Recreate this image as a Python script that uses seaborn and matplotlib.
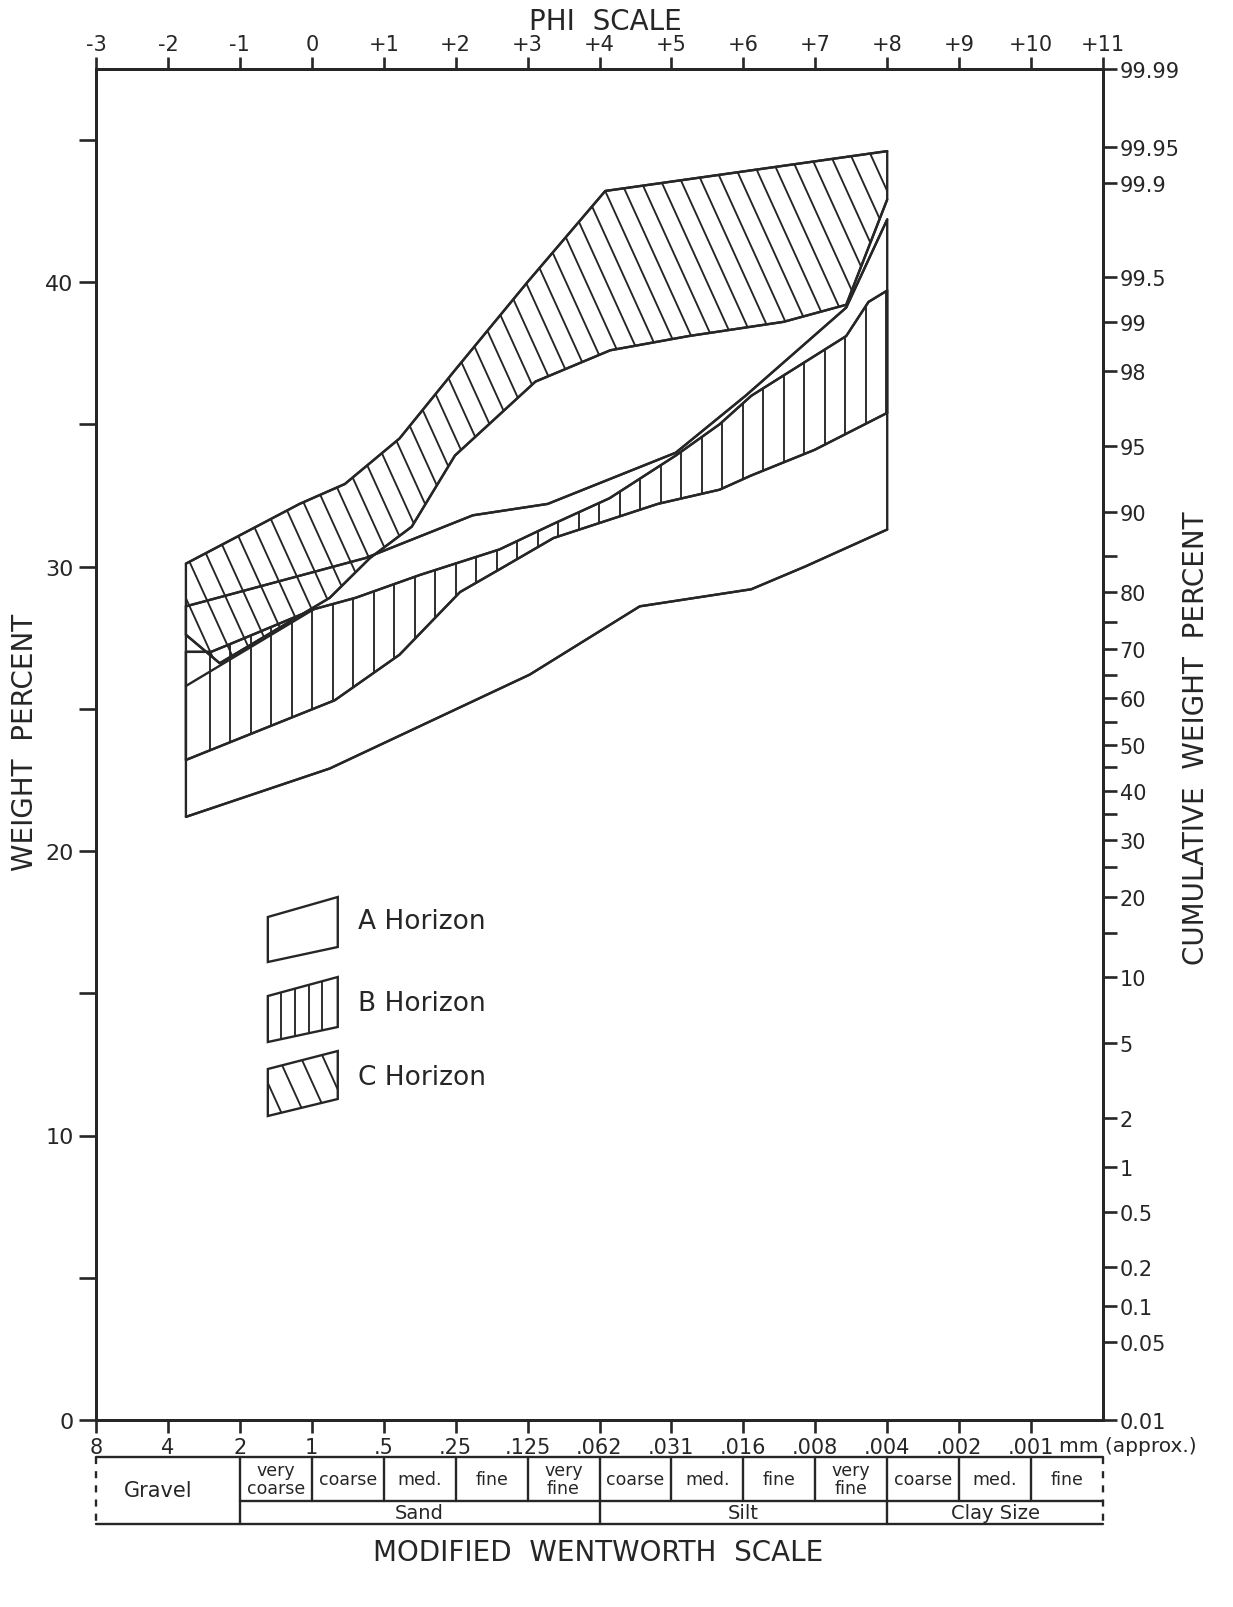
import numpy as np
import seaborn as sns
import matplotlib
matplotlib.use('Agg')
import matplotlib.pyplot as plt
from matplotlib.patches import Polygon
from statistics import NormalDist

# Envelopes of the cumulative curves (phi units, weight percent)
c_upper_phi = [-1.75, -0.17, 0.46, 1.22, 1.99, 3.0, 4.08, 8.0]
c_upper_wt = [30.1, 32.2, 32.9, 34.5, 36.9, 40.0, 43.2, 44.6]
c_lower_phi = [-1.75, -1.28, 0.25, 0.81, 1.39, 1.99, 3.11, 4.15, 5.24, 6.56, 7.43, 8.0]
c_lower_wt = [27.6, 26.6, 28.9, 30.3, 31.4, 33.9, 36.5, 37.6, 38.1, 38.6, 39.2, 42.9]

b_upper_phi = [-1.75, -1.40, -1.11, -0.54, 0.03, 0.61, 1.5, 2.61, 3.36, 4.14, 5.06,
               5.67, 6.11, 6.99, 7.43, 7.74, 8.0]
b_upper_wt = [27.0, 27.0, 27.3, 27.9, 28.5, 28.9, 29.7, 30.6, 31.5, 32.4, 33.9,
              35.0, 36.0, 37.4, 38.1, 39.3, 39.7]
b_lower_phi = [-1.75, 0.32, 1.22, 2.06, 2.61, 3.36, 4.81, 5.67, 6.11, 6.99, 8.0]
b_lower_wt = [23.2, 25.3, 26.9, 29.1, 29.9, 31.0, 32.2, 32.7, 33.2, 34.1, 35.4]

a_upper_phi = [-1.75, 0.75, 2.24, 3.28, 5.06, 6.03, 7.43, 8.0]
a_upper_wt = [28.6, 30.3, 31.8, 32.2, 34.0, 36.0, 39.1, 42.2]
a_lower_phi = [-1.75, 0.25, 3.03, 4.56, 6.11, 6.86, 8.0]
a_lower_wt = [21.2, 22.9, 26.2, 28.6, 29.2, 30.0, 31.3]

# second A-horizon trace at the coarse end
a_trace_phi = [-1.75, 0.03]
a_trace_wt = [25.8, 28.5]

# axis scales
phi_ticks = list(range(-3, 12))
phi_labels = ['-3', '-2', '-1', '0', '+1', '+2', '+3', '+4', '+5', '+6', '+7', '+8', '+9', '+10', '+11']
mm_labels = ['8', '4', '2', '1', '.5', '.25', '.125', '.062', '.031', '.016', '.008', '.004', '.002', '.001']
cum_pct = [0.01, 0.05, 0.1, 0.2, 0.5, 1, 2, 5, 10, 20, 30, 40, 50, 60, 70, 80, 90, 95, 98, 99,
           99.5, 99.9, 99.95, 99.99]
cum_minor = [15, 25, 35, 45, 55, 65, 75, 85]

# Wentworth classes
class_names = ['very\ncoarse', 'coarse', 'med.', 'fine', 'very\nfine',
               'coarse', 'med.', 'fine', 'very\nfine', 'coarse', 'med.', 'fine']
class_edges = list(range(-1, 12))
group_names = ['Sand', 'Silt', 'Clay Size']
group_edges = [-1, 4, 8, 11]

sns.set_style('ticks')
plt.rcParams['font.family'] = ['DejaVu Sans']
ink = '#262626'
lw = 1.7

W, H = 1233, 1608
fig = plt.figure(figsize=(W / 100, H / 100), dpi=100)
fig.patch.set_facecolor('white')
ax = fig.add_axes([96 / W, (H - 1421) / H, 1007 / W, 1351 / H])
ymax = 1351 / 28.45
ax.set_xlim(-3, 11)
ax.set_ylim(0, ymax)


def envelope(up_x, up_y, lo_x, lo_y):
    verts = np.column_stack([np.r_[up_x, lo_x[::-1]], np.r_[up_y, lo_y[::-1]]])
    patch = Polygon(verts, closed=True, fill=False, edgecolor=ink, lw=lw, joinstyle='round')
    ax.add_patch(patch)
    return patch


def hatch(patch, x0, x1, spacing, slope=None, width=1.35):
    if slope is None:
        for x in np.arange(x0, x1, spacing):
            ln, = ax.plot([x, x], [-5, 60], color=ink, lw=width)
            ln.set_clip_path(patch)
    else:
        for p in np.arange(x0 - 3, x1 + 6, spacing):
            xs = np.array([p - 6, p + 6])
            ln, = ax.plot(xs, 30 - slope * (xs - p), color=ink, lw=width)
            ln.set_clip_path(patch)


diag = 2.2 * 72 / 28.45  # slope of the C hatching in data units

pa = envelope(a_upper_phi, a_upper_wt, a_lower_phi, a_lower_wt)
pb = envelope(b_upper_phi, b_upper_wt, b_lower_phi, b_lower_wt)
hatch(pb, -1.75 + 0.33, 8.0, 0.285)
pc = envelope(c_upper_phi, c_upper_wt, c_lower_phi, c_lower_wt)
hatch(pc, -1.75, 8.0, 0.28, slope=diag)

for xs, ys in [(a_upper_phi, a_upper_wt), (a_lower_phi, a_lower_wt), (b_upper_phi, b_upper_wt),
               (b_lower_phi, b_lower_wt), (c_upper_phi, c_upper_wt), (c_lower_phi, c_lower_wt),
               (a_trace_phi, a_trace_wt)]:
    sns.lineplot(x=xs, y=ys, sort=False, estimator=None, color=ink, lw=lw, ax=ax)


# legend swatches (parallelograms)
def px_x(x):
    return (x - 96) / 72 - 3


def px_y(y):
    return (1421 - y) / 28.45


swatches = [(918, 898, 948, 963), (997, 978, 1028, 1043), (1070, 1052, 1100, 1117)]
legend_text = ['A Horizon', 'B Horizon', 'C Horizon']
legend_y = [922, 1004, 1078]
for i, (tl, tr, br, bl) in enumerate(swatches):
    verts = [(px_x(268), px_y(tl)), (px_x(338), px_y(tr)), (px_x(338), px_y(br)), (px_x(268), px_y(bl))]
    p = Polygon(verts, closed=True, fill=False, edgecolor=ink, lw=lw)
    ax.add_patch(p)
    if i == 1:
        hatch(p, px_x(268) + 0.19, px_x(338) - 0.05, 0.19)
    elif i == 2:
        hatch(p, px_x(268) - 1.5, px_x(338), 0.31, slope=diag)
    ax.text(px_x(358), px_y(legend_y[i]), legend_text[i], fontsize=19, color=ink,
            ha='left', va='center')

# left axis
ax.set_yticks(np.arange(0, 46, 5))
ax.set_yticklabels([str(v) if v % 10 == 0 else '' for v in range(0, 46, 5)])
ax.set_xticks(phi_ticks[:-1])
ax.set_xticklabels(mm_labels)
ax.tick_params(axis='y', direction='out', length=12, width=1.9, labelsize=16, colors=ink, pad=4)
ax.tick_params(axis='x', direction='out', length=9, width=1.9, labelsize=15, colors=ink, pad=3)
for s in ax.spines.values():
    s.set_linewidth(2.0)
    s.set_color(ink)

# top phi axis
ax_t = ax.twiny()
ax_t.set_xlim(-3, 11)
ax_t.set_xticks(phi_ticks)
ax_t.set_xticklabels(phi_labels)
ax_t.tick_params(axis='x', direction='out', length=9, width=1.9, labelsize=15, colors=ink, pad=2)

# right probability axis
nd = NormalDist()
zmax = nd.inv_cdf(0.9999)
ax_r = ax.twinx()
ax_r.set_ylim(-zmax, zmax)
ax_r.set_yticks([nd.inv_cdf(p / 100) for p in cum_pct])
ax_r.set_yticklabels([('%g' % p) for p in cum_pct])
ax_r.set_yticks([nd.inv_cdf(p / 100) for p in cum_minor], minor=True)
ax_r.tick_params(axis='y', which='both', direction='out', length=10, width=1.9, labelsize=15,
                 colors=ink, pad=2)
for a in (ax_t, ax_r):
    for s in a.spines.values():
        s.set_linewidth(2.0)
        s.set_color(ink)

# Wentworth table under the plot
t_top, t_mid, t_bot = px_y(1458), px_y(1502), px_y(1525)
kw = dict(color=ink, lw=1.7, clip_on=False)
ax.plot([-3, 11], [t_top, t_top], **kw)
ax.plot([-3, 11], [t_bot, t_bot], **kw)
ax.plot([-1, 11], [t_mid, t_mid], **kw)
ax.plot([-3, -3], [t_top, t_bot], ls=(0, (3, 3)), **kw)
ax.plot([11, 11], [t_top, t_bot], ls=(0, (3, 3)), **kw)
for e in class_edges[:-1]:
    ax.plot([e, e], [t_top, t_mid], **kw)
for e in group_edges[:-1]:
    ax.plot([e, e], [t_mid, t_bot], **kw)
for i, name in enumerate(class_names):
    ax.text((class_edges[i] + class_edges[i + 1]) / 2, (t_top + t_mid) / 2, name, fontsize=12.5,
            color=ink, ha='center', va='center', linespacing=0.95, clip_on=False)
for i, name in enumerate(group_names):
    ax.text((group_edges[i] + group_edges[i + 1]) / 2, (t_mid + t_bot) / 2, name, fontsize=14,
            color=ink, ha='center', va='center', clip_on=False)
ax.text(px_x(158), (t_top + t_bot) / 2, 'Gravel', fontsize=15, color=ink, ha='center', va='center',
        clip_on=False)
ax.text(px_x(1060), px_y(1447), 'mm (approx.)', fontsize=14.5, color=ink, ha='left', va='center',
        clip_on=False)

# titles
fig.text(605 / W, 1 - 22 / H, 'PHI  SCALE', fontsize=20, color=ink, ha='center', va='center')
fig.text(598 / W, 1 - 1553 / H, 'MODIFIED  WENTWORTH  SCALE', fontsize=20, color=ink,
         ha='center', va='center')
fig.text(25 / W, 1 - 742 / H, 'WEIGHT  PERCENT', fontsize=20, color=ink, rotation=90,
         ha='center', va='center')
fig.text(1196 / W, 1 - 738 / H, 'CUMULATIVE  WEIGHT  PERCENT', fontsize=20, color=ink,
         rotation=90, ha='center', va='center')

fig.savefig('out.png', dpi=100, facecolor='white')
